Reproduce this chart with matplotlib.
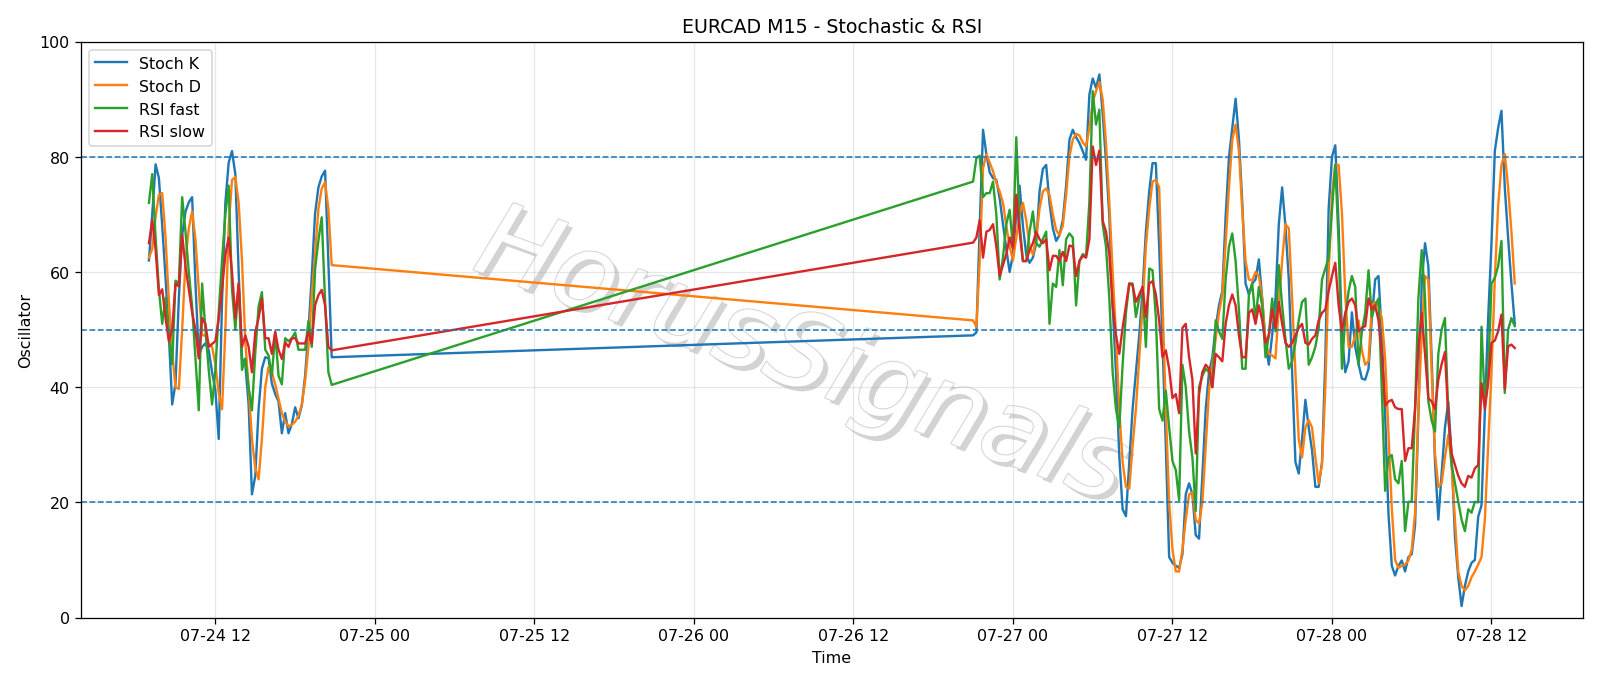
import numpy as np
import pandas as pd
import matplotlib
matplotlib.use("Agg")
import matplotlib.pyplot as plt
import matplotlib.dates as mdates
import matplotlib.patheffects as pe

title = "EURCAD M15 - Stochastic & RSI"
series_names = ["Stoch K", "Stoch D", "RSI fast", "RSI slow"]
seg1_start = "2020-07-24 07:00"
seg2_start = "2020-07-26 21:00"

k1 = [62, 70, 78.7, 76.3, 68, 59, 49, 37, 40.7, 55.4,
      66.4, 70.5, 72.1, 73, 58, 45.5, 47, 47.6, 46.4, 42.6,
      39.5, 31, 55, 72, 79, 81, 77, 60, 45, 44,
      37, 21.4, 24.6, 36.2, 43.2, 45.2, 45, 40.6, 38.8, 37.5,
      32, 35.5, 32, 33.6, 36.5, 34.6, 36.8, 42, 49.7, 59.3,
      70.2, 74.7, 76.6, 77.6, 61.8, 45.2]
d1 = [62.5, 64, 69.6, 73.4, 73.7, 66, 55, 46, 40, 39.7,
      50, 62, 67.6, 70.5, 65.7, 57, 49, 49, 47.5, 47,
      44, 39, 36.2, 50, 68, 76, 76.5, 72, 62, 48,
      40, 31, 26, 24, 31, 40, 43.5, 42.5, 40.5, 38,
      35.5, 34, 33.2, 33.5, 34, 35, 37, 41, 47, 56,
      63, 71, 74.5, 75.6, 71, 61.2]
g1 = [72, 77, 66, 57, 51, 55.5, 49, 44, 58.5, 58,
      73, 67, 60, 54, 45, 36, 58, 50, 43, 37,
      43, 53, 62, 70, 75, 57, 50, 58, 43, 45,
      40, 36, 46, 54, 56.5, 46.5, 45.5, 42, 49.5, 42,
      40.5, 48.5, 48, 48.5, 49.5, 46.5, 46.5, 46.5, 51.5, 47,
      60.5, 65.5, 69.5, 55, 42.6, 40.4]
r1 = [65, 69, 64, 56, 57, 52, 48, 50, 58, 57.5,
      66.5, 61, 57, 53, 50, 45, 52, 51, 47, 47.5,
      48, 52, 57, 63, 66, 60, 52, 58, 47, 49,
      47, 42.6, 49.6, 52, 55.4, 48.5, 48.5, 45.8, 49.6, 46.5,
      44.9, 47.8, 47, 48.5, 48.5, 47.6, 47.6, 47.6, 49.6, 47.6,
      54.2, 56, 56.9, 54.2, 47, 46.4]

k2 = [49, 49.5, 68, 84.7, 80.5, 77.3, 76.3, 76, 72.8, 68.3,
      64, 60, 63, 70, 75, 68, 63, 61.6, 62.5, 65,
      74, 77.9, 78.6, 72, 67.6, 65.4, 66.4, 69, 75, 83,
      84.7, 83.4, 82.4, 81, 79.5, 90.8, 93.6, 92, 94.3, 87.5,
      79.2, 69.6, 54.2, 42.6, 28, 18.8, 17.6, 27, 36.2, 42.6,
      49, 56.7, 67, 74, 78.9, 78.9, 64.4, 48, 29.8, 10.5,
      9.5, 9, 8.6, 11, 21.4, 23.3, 21.4, 14.3, 13.7, 24.6,
      36.2, 42.6, 45.2, 50.3, 54.2, 56.7, 69.6, 79.9, 85, 90.1,
      83.1, 72.1, 58, 56.1, 58, 58.7, 62.2, 55.4, 47.7, 43.9,
      49, 55.4, 68.3, 74.7, 68, 58.7, 42.6, 27, 25, 31,
      37.8, 33, 29, 22.7, 22.7, 27, 45, 71, 80, 82,
      68, 49, 42.6, 44.5, 53, 47, 44, 41.5, 41.3, 43.2,
      52, 58.7, 59.3, 49, 35, 18, 9, 7.3, 9, 9.9,
      8, 10.5, 11, 16, 35, 58, 65, 61, 45, 27,
      17, 25, 33, 37.5, 28, 14, 7, 2, 5.5, 8,
      9.5, 10, 17.5, 19.5, 36, 52, 65, 81, 85, 88,
      74.7, 66, 58, 51]
d2 = [51.6, 50.5, 62, 78, 80.5, 79, 77.5, 75.5, 74, 72,
      68, 64.5, 62, 66, 70, 72, 69, 64.5, 63, 66,
      71, 74, 74.5, 73.4, 70, 67.3, 66.4, 68, 73.4, 80,
      83, 84, 83.7, 82.5, 81.8, 85, 89.5, 91.4, 93, 90,
      82.4, 72, 60, 49, 36, 27, 22.7, 22.4, 29.8, 36.2,
      45, 54, 64.4, 71, 75.7, 76, 74.7, 55, 36, 20,
      11.8, 8, 8, 11.8, 17, 21.4, 21.7, 17, 16.3, 20,
      29.8, 39.4, 43.9, 48.4, 52.9, 56, 65, 74.7, 83, 85.6,
      81, 70.8, 61.9, 58.7, 58.5, 60, 59.3, 55.4, 47.7, 45.8,
      45.5, 45, 54, 62, 68.3, 67.6, 55.4, 42.6, 31, 27.8,
      33, 34.3, 33, 27.8, 23.3, 26.5, 40, 60, 73.4, 78.6,
      78.6, 70.2, 56, 47, 47, 49, 51.6, 46.4, 43.9, 44.5,
      54.2, 54.8, 54, 52, 45, 32, 19, 10, 8.6, 9,
      9.2, 9.9, 11.8, 18.2, 36.2, 49, 59.3, 58.7, 42.6, 28.5,
      22.7, 23.3, 27.8, 31.7, 26.5, 17, 8, 5.5, 4.7, 5.5,
      7, 8, 9.2, 10.5, 17, 29.8, 42.6, 58.7, 71.5, 78.6,
      80.5, 74.7, 67, 58]
g2 = [75.7, 79.8, 80.2, 73, 73.7, 73.7, 75.7, 70, 58.7, 62.5,
      68.3, 70.8, 64.4, 83.4, 68.3, 61.9, 61.9, 67, 70.5, 65,
      64.4, 65.7, 67, 51, 58, 57.4, 63.8, 57.7, 65.7, 66.7,
      66, 54.2, 61.9, 63.1, 62.8, 72.1, 91.4, 85.6, 88.2, 68.3,
      64.4, 55.4, 42.6, 36.2, 33, 43.9, 52.9, 58, 58, 52.2,
      55.4, 57.4, 47, 60.6, 60.3, 52.2, 36.2, 34.2, 39.4, 33,
      27.2, 25.6, 20.4, 43.9, 40, 32.3, 27.8, 18.5, 40, 42,
      43.2, 42.6, 40, 51.6, 49.7, 48.4, 58.7, 64.4, 66.7, 61.9,
      53.5, 43.2, 43.2, 56, 58, 51.6, 57.4, 54.2, 45.2, 49,
      55.4, 49.7, 61.2, 54.2, 48.4, 43.2, 44.5, 47.7, 51.6, 54.8,
      55.4, 43.9, 45.2, 47, 50.3, 58.7, 60.6, 62.5, 70.8, 78.6,
      65, 43.2, 52.2, 56.7, 59.3, 57.4, 43.9, 49.7, 52.9, 60.3,
      52.2, 54.2, 55.4, 39.4, 22, 27.8, 28.2, 24, 23.3, 27.2,
      15, 20.1, 20.1, 36.2, 55.4, 63.8, 55.4, 37.5, 34.2, 32.3,
      45.8, 50, 52, 35, 26.5, 23.3, 20.1, 17, 15, 18.8,
      18.2, 20.1, 20, 50.5, 37, 42.6, 58, 59, 61, 65.4,
      39, 50, 52, 50.6]
r2 = [65.1, 66, 69, 62.5, 67, 67.3, 68.3, 64.4, 59.3, 61.2,
      63.1, 66, 64.1, 73.4, 67, 61.9, 61.9, 63.8, 65, 67,
      65.7, 65, 65.7, 60.3, 62.8, 62.8, 61.9, 63.5, 61.9, 64.6,
      64.4, 59.3, 61.9, 62.8, 62.5, 65.7, 81.8, 78.6, 81.1, 68.9,
      67, 63.1, 54.2, 49, 45.8, 50.3, 54.2, 58, 57.7, 54.8,
      56.1, 57.4, 52.2, 58, 58.4, 56.1, 51.6, 45.2, 46.4, 43.2,
      38.1, 38.8, 35.5, 50.3, 51, 45.2, 41.3, 28.5, 38.8, 42.6,
      43.9, 43.2, 40, 45.8, 45.2, 44.5, 51, 54.2, 56.1, 54.2,
      49, 45.2, 45.2, 52.9, 53.5, 51, 54.2, 51.6, 47.7, 49,
      53.5, 50.3, 54.8, 51, 47.7, 47, 47.7, 49, 50.3, 51,
      47.7, 47.4, 48.4, 49, 51.6, 52.9, 53.5, 56.7, 59.3, 61.6,
      54.2, 49.7, 52.9, 54.8, 55.4, 54.2, 49.7, 50.3, 50.6, 55.4,
      53.5, 54.2, 51.6, 45.8, 36.8, 37.5, 37.8, 36.5, 36.2, 36.2,
      27.2, 29.4, 29.4, 36.2, 47, 52.9, 45.8, 38.1, 37.5, 36.2,
      41.3, 44, 46.1, 35, 28.5, 26.5, 24.6, 23.3, 22.7, 24.6,
      24.3, 25.9, 26.5, 40.7, 36.2, 40.7, 47.7, 48.1, 49.7, 52.6,
      39.7, 47.1, 47.4, 46.8]

levels = [80, 50, 20]

t1 = pd.date_range(seg1_start, periods=len(k1), freq="15min")
t2 = pd.date_range(seg2_start, periods=len(k2), freq="15min")
times = t1.append(t2)
data = [k1 + k2, d1 + d2, g1 + g2, r1 + r2]

fig = plt.figure(figsize=(14, 6), dpi=1600 / 14)
ax = fig.add_axes([0.0504, 0.0984, 0.9390, 0.8398])

for name, vals in zip(series_names, data):
    ax.plot(times, vals, label=name, linewidth=1.5)

for lv in levels:
    ax.axhline(lv, color="#1f77b4", linestyle="--", linewidth=1.0)

ax.set_ylim(0, 100)
ax.grid(True, color="#b0b0b0", alpha=0.3, linewidth=0.8)
ax.xaxis.set_major_locator(mdates.HourLocator(byhour=[0, 12]))
ax.xaxis.set_major_formatter(mdates.DateFormatter("%m-%d %H"))
ax.set_title(title, fontsize=12)
ax.set_xlabel("Time")
ax.set_ylabel("Oscillator")
ax.legend(loc="upper left")

ax.text(0.48, 0.45, "HorusSignals", transform=ax.transAxes, fontsize=66,
        style="italic", rotation=-20, ha="center", va="center",
        color="white", alpha=0.9, zorder=1,
        path_effects=[pe.SimplePatchShadow(offset=(3, -3), shadow_rgbFace="#a8a8a8", alpha=0.5),
                      pe.Stroke(linewidth=1.2, foreground="#cfcfcf"),
                      pe.Normal()])

fig.savefig("out.png", dpi=1600 / 14)
